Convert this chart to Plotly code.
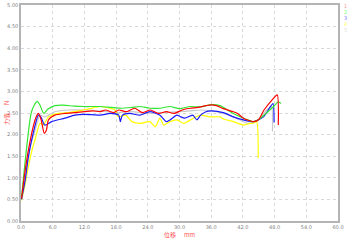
import plotly.graph_objects as go

x_red = [0.1,0.7,1.4,2.3,2.9,3.3,3.8,4.4,4.8,5.2,6.4,8.3,10.2,12,13.5,15,16,17.5,18.5,20,21.5,23,24.5,26,27.5,29,30.5,32,33.5,35,36,37,38.3,40.2,41,42.1,44,45,46,47.5,48.5,48.7]
y_red = [0.52,1.1,1.64,2.18,2.42,2.49,2.35,2.03,2.10,2.34,2.45,2.49,2.51,2.53,2.55,2.53,2.57,2.51,2.57,2.53,2.61,2.51,2.57,2.49,2.53,2.49,2.57,2.61,2.63,2.67,2.69,2.67,2.60,2.53,2.49,2.38,2.30,2.35,2.57,2.80,2.92,2.22]

x_green = [0.1,0.8,1.7,2.0,2.5,3.1,3.6,4.3,5.0,6.4,8,10,12,15,17,19,21,22.5,24.4,26.3,28.2,30,32,34,35.8,37.7,38.3,40.2,42.1,44,45,46,47.8,48.7,49.2]
y_green = [0.55,1.4,2.34,2.53,2.68,2.77,2.68,2.49,2.58,2.67,2.68,2.66,2.65,2.65,2.63,2.61,2.63,2.65,2.61,2.61,2.65,2.60,2.65,2.64,2.69,2.67,2.63,2.49,2.38,2.30,2.35,2.45,2.65,2.76,2.72]

x_blue = [0.1,0.8,1.4,2.3,3.3,3.8,4.5,5.8,8.3,10.2,12,15,16.9,18.5,18.8,19.2,20.6,22.5,24.4,26.3,27.5,28.2,29.5,30.1,31,32.5,33.3,34,35,36,38.3,40.2,42.1,44,45.9,47,47.7,47.9]
y_blue = [0.50,0.95,1.49,2.03,2.45,2.40,2.22,2.30,2.38,2.45,2.47,2.45,2.49,2.45,2.30,2.45,2.49,2.45,2.53,2.45,2.30,2.34,2.45,2.42,2.38,2.45,2.34,2.45,2.53,2.55,2.51,2.41,2.34,2.30,2.41,2.61,2.72,2.28]

x_yellow = [0.1,0.7,1.4,2.0,2.65,3.6,4.2,5.2,7.1,9.0,11,13,15,16.8,17.8,18.4,19.8,21.0,22.5,24.4,25.4,26.3,27.0,28.2,29.5,30.8,31.5,33.9,35.8,37.7,38.3,40.2,42.1,43,44.0,44.6,44.9]
y_yellow = [0.48,0.80,1.26,1.60,1.88,2.26,2.22,2.41,2.49,2.51,2.55,2.60,2.65,2.61,2.57,2.41,2.45,2.30,2.26,2.30,2.18,2.38,2.22,2.30,2.34,2.26,2.30,2.45,2.41,2.41,2.36,2.30,2.22,2.25,2.27,2.30,1.45]

x_gray = [0.1,1.0,1.8,2.65,3.6,4.5,6.4,9,12,15,18,21,24,27,30,32,34,36,38.3,40.2,42.1,43,44.5,45.5,46.5,47.4,47.6]
y_gray = [0.52,1.2,1.75,2.10,2.45,2.41,2.53,2.57,2.57,2.55,2.51,2.53,2.49,2.51,2.53,2.55,2.57,2.55,2.49,2.41,2.30,2.26,2.30,2.41,2.57,2.65,2.07]

series_names = ["1", "2", "3", "4", "5"]
colors = ["#ff0000", "#33e633", "#1a1aff", "#ffff00", "#c8c8c8"]
legend_colors = ["#ff9999", "#80ff80", "#8080ff", "#ffff66", "#dddddd"]

x_ticks = [0.0, 6.0, 12.0, 18.0, 24.0, 30.0, 36.0, 42.0, 48.0, 54.0, 60.0]
y_ticks = [0.0, 0.5, 1.0, 1.5, 2.0, 2.5, 3.0, 3.5, 4.0, 4.5, 5.0]

fig = go.Figure()
data = [(x_gray, y_gray, 4), (x_yellow, y_yellow, 3), (x_blue, y_blue, 2), (x_green, y_green, 1), (x_red, y_red, 0)]
for xs, ys, i in data:
    fig.add_trace(go.Scatter(x=xs, y=ys, mode="lines", name=series_names[i],
                             line=dict(color=colors[i], width=1.2, shape="spline", smoothing=0.6),
                             showlegend=False))

for i, n in enumerate(series_names):
    fig.add_annotation(text=n, x=1.0, xref="paper", xanchor="left", xshift=4,
                       y=0.995 - i * 0.028, yref="paper", yanchor="middle",
                       showarrow=False, font=dict(size=5, color=legend_colors[i], family="DejaVu Sans"))

fig.add_annotation(text="力值      N", x=0, xref="paper", xanchor="center", xshift=-15,
                   y=0.5, yref="paper", yanchor="middle", textangle=-90, showarrow=False,
                   font=dict(size=6, color="#ff5050", family="Noto Sans CJK SC"))

axis_common = dict(showgrid=True, gridcolor="#d8d8d8", griddash="dot", gridwidth=1,
                   showline=True, linecolor="#b4b4b4", linewidth=1.5, mirror=True,
                   zeroline=False, ticks="", automargin=False,
                   tickfont=dict(size=5, color="#808080", family="DejaVu Sans"))

fig.update_xaxes(range=[0, 60], tickvals=x_ticks, ticktext=[f"{v:.1f}" for v in x_ticks],
                 title=dict(text="位移      mm", font=dict(size=6, color="#ff5050", family="Noto Sans CJK SC"), standoff=2),
                 **axis_common)
fig.update_yaxes(range=[0, 5], tickvals=y_ticks, ticktext=[f"{v:.2f}" for v in y_ticks],
                 **axis_common)

fig.update_layout(width=353, height=243, margin=dict(l=21, r=15, t=5, b=22),
                  paper_bgcolor="white", plot_bgcolor="white")

fig.write_html("out.html")
